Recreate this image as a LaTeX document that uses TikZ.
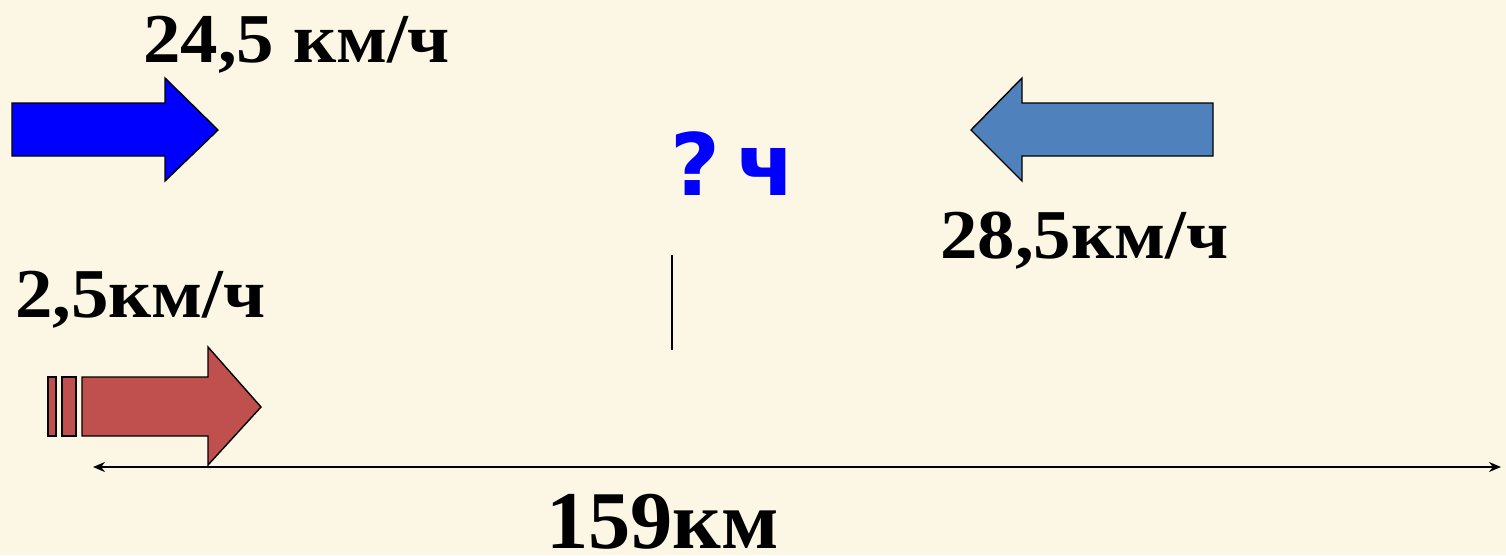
\documentclass[tikz,border=0pt]{standalone}
\usepackage{fontspec}
\setmainfont{Liberation Serif}
\newfontfamily\qfont{DejaVu Sans}
\usetikzlibrary{arrows.meta}
\definecolor{bgc}{HTML}{FCF6E5}
\definecolor{bluea}{HTML}{0000FF}
\definecolor{steel}{HTML}{4F81BD}
\definecolor{reda}{HTML}{C0504D}
\tikzset{
  arrowshape/.style={draw=black, line width=1.4pt, line join=miter},
  speed/.style={anchor=base west, inner sep=0pt, xscale=1.07, font=\fontsize{70}{70}\selectfont\bfseries},
  dist/.style={anchor=base west, inner sep=0pt, xscale=1.03, font=\fontsize{82}{82}\selectfont\bfseries},
  qlabel/.style={anchor=base west, inner sep=0pt, text=bluea, font=\qfont\fontsize{86}{86}\selectfont\bfseries},
}
\begin{document}
\begin{tikzpicture}[x=1pt,y=-1pt]
\fill[bgc] (0,0) rectangle (1506,555);
\useasboundingbox (0,0) rectangle (1506,555);
% blue arrow (right)
\draw[arrowshape, fill=bluea] (12,103) -- (165,103) -- (165,78) -- (218,130) -- (165,181) -- (165,156) -- (12,156) -- cycle;
% steel blue arrow (left)
\draw[arrowshape, fill=steel] (1213,103) -- (1022,103) -- (1022,78) -- (971,130) -- (1022,181) -- (1022,156) -- (1213,156) -- cycle;
% red striped arrow
\draw[arrowshape, fill=reda] (48,377) rectangle (56,436);
\draw[arrowshape, fill=reda] (62,377) rectangle (76,436);
\draw[arrowshape, fill=reda] (82,377) -- (208,377) -- (208,347) -- (261,407) -- (208,465) -- (208,436) -- (82,436) -- cycle;
% labels
\node[speed] (v1) at (143,62) {24,5 км/ч};
\node[speed] (v2) at (940,258) {28,5км/ч};
\node[speed] (v3) at (15,317) {2,5км/ч};
\node[qlabel] (q) at (670,195) {?\kern16pt ч};
\node[dist] (d) at (546,548) {159км};
% meeting mark
\coordinate (mt) at (672,255);
\coordinate (mb) at (672,350);
\draw[line width=1.3pt] (mt) -- (mb);
% distance line
\coordinate (L) at (93,467);
\coordinate (R) at (1501,467);
\draw[line width=1.8pt, {Stealth[length=12pt,width=10pt]}-{Stealth[length=12pt,width=10pt]}] (L) -- (R);
\end{tikzpicture}
\end{document}
